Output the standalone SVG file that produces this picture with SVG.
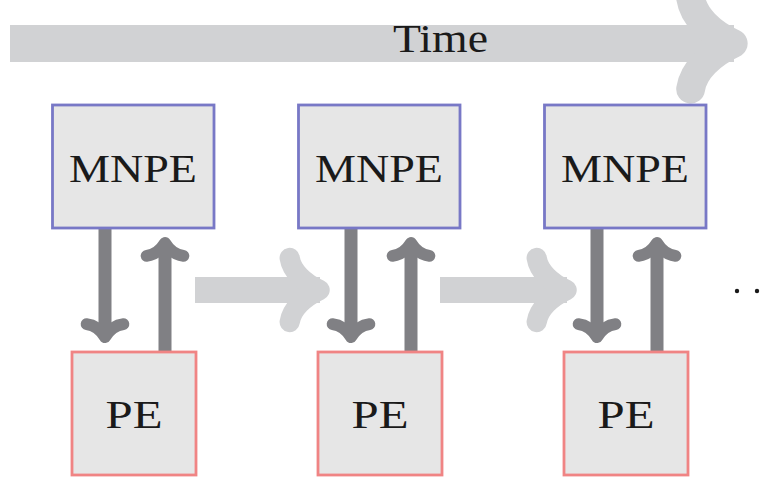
<svg xmlns="http://www.w3.org/2000/svg" xmlns:xlink="http://www.w3.org/1999/xlink" width="773" height="479" viewBox="0 0 773 479">
  <style>
    .mnpe rect { fill: #e6e6e6; stroke: #7878c6; stroke-width: 2.8; }
    .pe rect { fill: #e6e6e6; stroke: #f08484; stroke-width: 2.8; }
    .lbl { font-family: "Liberation Serif", "Times New Roman", serif; font-size: 41px; fill: #1a1a1a; text-anchor: middle; }
    .light { stroke: #d1d2d4; fill: none; }
    .dark { stroke: #808084; fill: none; }
  </style>
  <defs>
    <path id="head" d="M -1.55 -1.23 C -1.47 -0.72 -1.0 -0.28 -0.4 0 C -1.0 0.28 -1.47 0.72 -1.55 1.23" fill="none" stroke-width="0.78" stroke-linecap="round" stroke-linejoin="round"/>
    <path id="vhead" d="M -1.45 -1.42 C -1.38 -0.8 -0.95 -0.3 -0.45 0 C -0.95 0.3 -1.38 0.8 -1.45 1.42" fill="none" stroke-width="0.9" stroke-linecap="round" stroke-linejoin="round"/>
  </defs>

  <g id="connectors">
    <g id="time-arrow" class="light">
      <line x1="10" y1="43.5" x2="734" y2="43.5" stroke-width="37"/>
      <use xlink:href="#head" transform="translate(748,43.5) scale(37)"/>
    </g>
    <g class="light">
      <line x1="195" y1="290" x2="320" y2="290" stroke-width="26"/>
      <use xlink:href="#head" transform="translate(330,290) scale(26)"/>
      <line x1="440" y1="290" x2="567" y2="290" stroke-width="26"/>
      <use xlink:href="#head" transform="translate(577,290) scale(26)"/>
    </g>
    <g class="dark">
      <line x1="105" y1="228" x2="105" y2="336" stroke-width="13"/>
      <use xlink:href="#vhead" transform="translate(105,343) rotate(90) scale(13)"/>
      <line x1="165" y1="352" x2="165" y2="244" stroke-width="13"/>
      <use xlink:href="#vhead" transform="translate(165,237) rotate(-90) scale(13)"/>

      <line x1="351" y1="228" x2="351" y2="336" stroke-width="13"/>
      <use xlink:href="#vhead" transform="translate(351,343) rotate(90) scale(13)"/>
      <line x1="411" y1="352" x2="411" y2="244" stroke-width="13"/>
      <use xlink:href="#vhead" transform="translate(411,237) rotate(-90) scale(13)"/>

      <line x1="597" y1="228" x2="597" y2="336" stroke-width="13"/>
      <use xlink:href="#vhead" transform="translate(597,343) rotate(90) scale(13)"/>
      <line x1="657" y1="352" x2="657" y2="244" stroke-width="13"/>
      <use xlink:href="#vhead" transform="translate(657,237) rotate(-90) scale(13)"/>
    </g>
  </g>

  <text class="lbl" x="440.5" y="52" textLength="95" lengthAdjust="spacingAndGlyphs">Time</text>

  <g id="mnpe1" class="mnpe">
    <rect x="52.5" y="105" width="161.5" height="123"/>
    <text class="lbl" x="133" y="182" textLength="128" lengthAdjust="spacingAndGlyphs">MNPE</text>
  </g>
  <g id="mnpe2" class="mnpe">
    <rect x="298.5" y="105" width="161.5" height="123"/>
    <text class="lbl" x="379" y="182" textLength="128" lengthAdjust="spacingAndGlyphs">MNPE</text>
  </g>
  <g id="mnpe3" class="mnpe">
    <rect x="544.5" y="105" width="161.5" height="123"/>
    <text class="lbl" x="625" y="182" textLength="128" lengthAdjust="spacingAndGlyphs">MNPE</text>
  </g>

  <g id="pe1" class="pe">
    <rect x="72" y="352" width="124" height="123"/>
    <text class="lbl" x="134" y="428" textLength="57" lengthAdjust="spacingAndGlyphs">PE</text>
  </g>
  <g id="pe2" class="pe">
    <rect x="318" y="352" width="124" height="123"/>
    <text class="lbl" x="380" y="428" textLength="57" lengthAdjust="spacingAndGlyphs">PE</text>
  </g>
  <g id="pe3" class="pe">
    <rect x="564" y="352" width="124" height="123"/>
    <text class="lbl" x="626" y="428" textLength="57" lengthAdjust="spacingAndGlyphs">PE</text>
  </g>

  <g id="continuation" fill="#1a1a1a">
    <circle cx="737" cy="291" r="2.2"/>
    <circle cx="757" cy="291" r="2.2"/>
  </g>
</svg>
